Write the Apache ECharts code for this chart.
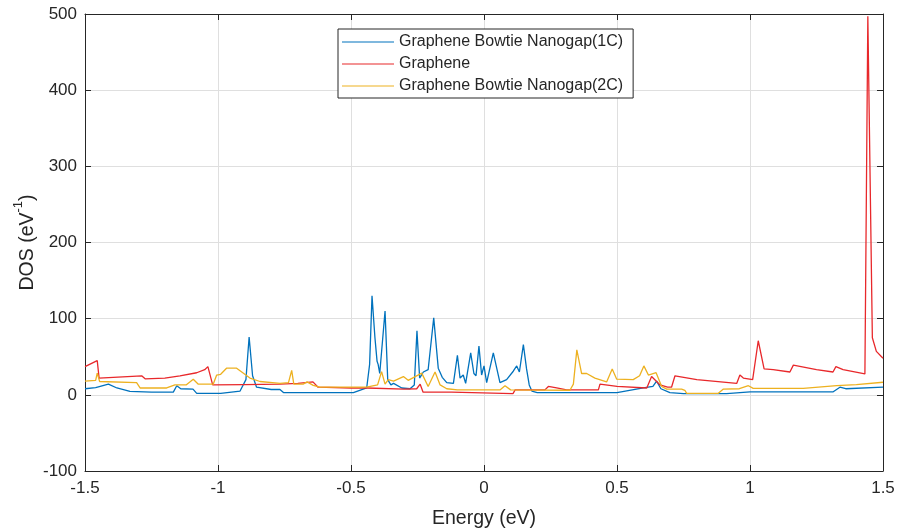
<!DOCTYPE html>
<html>
<head>
    <meta charset="utf-8">
    <title>DOS</title>
    <script src="https://cdn.jsdelivr.net/npm/echarts@6/dist/echarts.min.js"></script>
    <style>
        html, body { margin: 0; padding: 0; background: #fff; }
    </style>
</head>
<body>
    <div id="box" style="width: 899px;height: 531px;"></div>
    <script>
        // energy (eV) and DOS values
        var bowtie1cE = [-1.5, -1.46, -1.412, -1.38, -1.331, -1.25, -1.168, -1.155, -1.14, -1.094, -1.08, -0.99, -0.917, -0.895, -0.883, -0.87, -0.855, -0.8, -0.767, -0.754, -0.6, -0.491, -0.441, -0.43, -0.421, -0.41, -0.402, -0.398, -0.392, -0.372, -0.362, -0.35, -0.34, -0.309, -0.278, -0.262, -0.252, -0.242, -0.228, -0.21, -0.189, -0.172, -0.157, -0.14, -0.115, -0.1, -0.09, -0.078, -0.069, -0.05, -0.038, -0.03, -0.019, -0.009, 0.0, 0.01, 0.035, 0.06, 0.085, 0.11, 0.123, 0.133, 0.148, 0.16, 0.17, 0.18, 0.2, 0.3, 0.5, 0.599, 0.635, 0.649, 0.665, 0.699, 0.75, 0.912, 1.0, 1.313, 1.338, 1.36, 1.5];
        var bowtie1cDos = [8, 9.5, 14, 9, 4.5, 3.5, 3.5, 12, 8, 7.5, 2, 2, 5, 20, 76, 25, 10, 7, 7, 3, 3, 3, 9, 40, 130, 75, 44, 40, 28, 110, 20, 13, 15, 9, 8, 13, 84, 22, 30, 33, 101, 35, 23, 16, 15, 52, 22, 26, 15, 55, 28, 25, 64, 26, 38, 16, 55, 16, 20, 31, 38, 30, 66, 34, 13, 5, 3, 3, 3, 9, 11, 18, 8, 3, 1.5, 1.5, 4, 4, 10, 8, 10];

        var grapheneE = [-1.5, -1.454, -1.447, -1.287, -1.274, -1.2, -1.143, -1.08, -1.05, -1.038, -1.02, -0.9, -0.767, -0.7, -0.643, -0.624, -0.5, -0.441, -0.436, -0.3, -0.253, -0.24, -0.229, -0.122, -0.118, 0.109, 0.117, 0.229, 0.242, 0.273, 0.311, 0.43, 0.436, 0.5, 0.612, 0.63, 0.662, 0.69, 0.705, 0.718, 0.8, 0.95, 0.962, 0.975, 1.01, 1.031, 1.053, 1.087, 1.15, 1.163, 1.25, 1.312, 1.323, 1.35, 1.432, 1.443, 1.46, 1.475, 1.5];
        var grapheneDos = [37, 45, 22, 25, 21, 22, 25, 29, 33, 37, 13, 13.5, 14, 15, 17, 10, 9, 9, 7.5, 7.5, 8, 14, 3.5, 3.5, 1.5, 1.5, 6.5, 6.5, 11, 9, 6.5, 6.5, 14, 11, 9, 24, 13, 10, 10, 25, 20, 15, 26, 22, 20, 71, 34, 33, 30, 39, 33, 30, 37, 33, 27.5, 497, 75, 57, 48];

        var bowtie2cE = [-1.5, -1.46, -1.454, -1.445, -1.306, -1.293, -1.193, -1.162, -1.12, -1.093, -1.074, -1.018, -1.005, -0.99, -0.968, -0.93, -0.88, -0.842, -0.767, -0.735, -0.723, -0.715, -0.68, -0.665, -0.642, -0.617, -0.441, -0.4, -0.385, -0.372, -0.36, -0.34, -0.303, -0.285, -0.234, -0.21, -0.184, -0.165, -0.14, -0.1, 0.06, 0.079, 0.1, 0.323, 0.336, 0.349, 0.367, 0.386, 0.417, 0.461, 0.482, 0.499, 0.561, 0.585, 0.601, 0.618, 0.647, 0.668, 0.687, 0.743, 0.755, 0.762, 0.881, 0.9, 0.96, 0.994, 1.012, 1.2, 1.326, 1.4, 1.5];
        var bowtie2cDos = [18, 19, 28.5, 17.5, 16, 9, 9, 13, 13, 20.5, 14, 14, 26, 27, 35, 35, 22, 17.5, 15, 16, 32, 14, 14, 17, 12.5, 10, 10, 13, 30.5, 14, 20, 18, 24, 19, 28.5, 11, 30, 13, 8, 6.5, 6.5, 12, 6.5, 6, 14, 59, 28, 28, 22, 17, 34, 20.5, 20, 25, 38, 26, 29, 11, 7.5, 7.5, 6, 2, 2, 7.5, 8, 12, 8.5, 8.5, 12, 13.5, 16.5];

        var seriesNames = ['Graphene Bowtie Nanogap(1C)', 'Graphene', 'Graphene Bowtie Nanogap(2C)'];
        var seriesColors = ['#0072BD', '#E8282B', '#EDB120'];

        function pairs(xs, ys) {
            var out = [];
            for (var i = 0; i < xs.length; i++) out.push([xs[i], ys[i]]);
            return out;
        }

        var font = "'Liberation Sans', Arial, Helvetica, sans-serif";
        var dark = '#262626';
        var allData = [pairs(bowtie1cE, bowtie1cDos), pairs(grapheneE, grapheneDos), pairs(bowtie2cE, bowtie2cDos)];

        var myChart = echarts.init(document.getElementById('box'));
        var option = {
            animation: false,
            backgroundColor: '#fff',
            grid: { left: 85, right: 16, top: 14, bottom: 60, show: false, containLabel: false, outerBoundsMode: 'none' },
            legend: {
                data: seriesNames,
                orient: 'vertical',
                left: 338, top: 29,
                padding: [5, 10, 4, 4],
                itemGap: 6,
                itemWidth: 52,
                itemHeight: 14,
                icon: 'path://M0,6.6 L52,6.6 L52,7.4 L0,7.4 Z',
                backgroundColor: '#fff',
                borderColor: dark,
                borderWidth: 1,
                borderRadius: 0,
                textStyle: { color: dark, fontFamily: font, fontSize: 16 }
            },
            xAxis: [{
                type: 'value', min: -1.5, max: 1.5, interval: 0.5,
                name: 'Energy (eV)', nameLocation: 'middle', nameGap: 38, nameMoveOverlap: false,
                nameTextStyle: { color: dark, fontFamily: font, fontSize: 19.5 },
                axisLine: { show: true, onZero: false, lineStyle: { color: dark, width: 1 } },
                axisTick: { show: true, inside: true, length: 6, lineStyle: { color: dark } },
                axisLabel: { color: dark, fontFamily: font, fontSize: 17, margin: 9 },
                splitLine: { show: true, lineStyle: { color: '#dfdfdf', width: 1 } }
            }, {
                type: 'value', min: -1.5, max: 1.5, interval: 0.5, position: 'top',
                axisLine: { show: true, onZero: false, lineStyle: { color: dark, width: 1 } },
                axisTick: { show: true, inside: true, length: 6, lineStyle: { color: dark } },
                axisLabel: { show: false },
                splitLine: { show: false }
            }],
            yAxis: [{
                type: 'value', min: -100, max: 500, interval: 100,
                name: '{a|DOS (eV}{s|-1}{a|)}', nameLocation: 'middle', nameGap: 47, nameRotate: 90,
                nameMoveOverlap: false,
                nameTextStyle: {
                    rich: {
                        a: { color: dark, fontFamily: font, fontSize: 19.5, lineHeight: 26, verticalAlign: 'bottom' },
                        s: { color: dark, fontFamily: font, fontSize: 13, lineHeight: 26, verticalAlign: 'top' }
                    }
                },
                axisLine: { show: true, onZero: false, lineStyle: { color: dark, width: 1 } },
                axisTick: { show: true, inside: true, length: 6, lineStyle: { color: dark } },
                axisLabel: { color: dark, fontFamily: font, fontSize: 17, margin: 8 },
                splitLine: { show: true, lineStyle: { color: '#dfdfdf', width: 1 } }
            }, {
                type: 'value', min: -100, max: 500, interval: 100, position: 'right',
                axisLine: { show: true, onZero: false, lineStyle: { color: dark, width: 1 } },
                axisTick: { show: true, inside: true, length: 6, lineStyle: { color: dark } },
                axisLabel: { show: false },
                splitLine: { show: false }
            }],
            series: seriesNames.map(function (name, i) {
                return {
                    name: name,
                    type: 'line',
                    data: allData[i],
                    xAxisIndex: 0,
                    yAxisIndex: 0,
                    symbol: 'none',
                    smooth: false,
                    color: seriesColors[i],
                    lineStyle: { width: 1.3, color: seriesColors[i] },
                    z: 2 + i
                };
            })
        };
        myChart.setOption(option);
    </script>
</body>
</html>
